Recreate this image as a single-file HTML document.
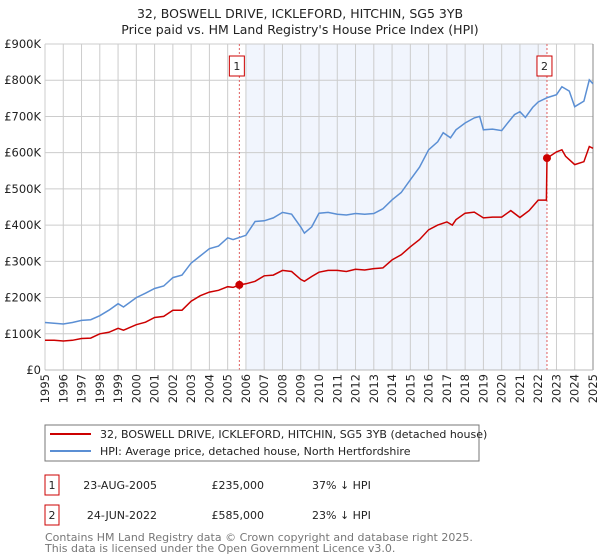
<!DOCTYPE html>
<html><head><meta charset="utf-8"><style>
body{margin:0;background:#fff;font-family:"Liberation Sans","DejaVu Sans",sans-serif;}
#wrap{position:relative;width:600px;height:560px;overflow:hidden;}
</style></head><body>
<div id="wrap">
<svg id="chart" width="600" height="560" xmlns="http://www.w3.org/2000/svg" font-family="DejaVu Sans, Liberation Sans, sans-serif">
<text x="300" y="18" text-anchor="middle" font-size="12.5" fill="#222">32, BOSWELL DRIVE, ICKLEFORD, HITCHIN, SG5 3YB</text>
<text x="300" y="34" text-anchor="middle" font-size="12.5" fill="#222">Price paid vs. HM Land Registry's House Price Index (HPI)</text>
<g id="plot"></g>
<rect x="45" y="425" width="434" height="36" fill="#fff" stroke="#777"/>
<line x1="50" y1="434" x2="91" y2="434" stroke="#cc0000" stroke-width="2"/>
<text x="100" y="438" font-size="11" fill="#222">32, BOSWELL DRIVE, ICKLEFORD, HITCHIN, SG5 3YB (detached house)</text>
<line x1="50" y1="451" x2="91" y2="451" stroke="#5b8fd4" stroke-width="2"/>
<text x="100" y="455" font-size="11" fill="#222">HPI: Average price, detached house, North Hertfordshire</text>
<g font-size="11" fill="#222">
<rect x="45" y="475" width="14" height="20" fill="none" stroke="#cc0000"/>
<text x="52" y="489" text-anchor="middle">1</text>
<text x="157" y="489" text-anchor="end">23-AUG-2005</text>
<text x="264" y="489" text-anchor="end">£235,000</text>
<text x="312" y="489">37% ↓ HPI</text>
<rect x="45" y="505" width="14" height="20" fill="none" stroke="#cc0000"/>
<text x="52" y="519" text-anchor="middle">2</text>
<text x="157" y="519" text-anchor="end">24-JUN-2022</text>
<text x="264" y="519" text-anchor="end">£585,000</text>
<text x="312" y="519">23% ↓ HPI</text>
</g>
<text x="45" y="541" font-size="11" fill="#777">Contains HM Land Registry data © Crown copyright and database right 2025.</text>
<text x="45" y="552" font-size="11" fill="#777">This data is licensed under the Open Government Licence v3.0.</text>
</svg>
</div>
<script>
const yTickValues=[0,100000,200000,300000,400000,500000,600000,700000,800000,900000];
const yTickLabels=["£0","£100K","£200K","£300K","£400K","£500K","£600K","£700K","£800K","£900K"];
const xTickYears=[1995,1996,1997,1998,1999,2000,2001,2002,2003,2004,2005,2006,2007,2008,2009,2010,2011,2012,2013,2014,2015,2016,2017,2018,2019,2020,2021,2022,2023,2024,2025];
const hpiDates=[1995,1995.5,1996,1996.5,1997,1997.5,1998,1998.5,1999,1999.3,2000,2000.5,2001,2001.5,2002,2002.5,2003,2003.5,2004,2004.5,2005,2005.3,2006,2006.5,2007,2007.5,2008,2008.5,2009,2009.2,2009.6,2010,2010.5,2011,2011.5,2012,2012.5,2013,2013.5,2014,2014.5,2015,2015.5,2016,2016.5,2016.8,2017.2,2017.5,2018,2018.5,2018.8,2019,2019.5,2020,2020.3,2020.7,2021,2021.3,2021.7,2022,2022.5,2023,2023.3,2023.7,2024,2024.5,2024.8,2025];
const hpiValues=[131000,129000,127000,131000,137000,139000,150000,165000,183000,174000,200000,212000,225000,232000,255000,262000,295000,315000,335000,342000,365000,360000,372000,410000,412000,420000,435000,430000,395000,378000,395000,433000,435000,430000,428000,432000,430000,432000,445000,470000,490000,525000,560000,608000,630000,655000,641000,663000,682000,696000,700000,663000,665000,661000,680000,705000,713000,697000,725000,740000,752000,760000,782000,770000,727000,742000,801000,790000];
const ppDates=[1995,1995.5,1996,1996.5,1997,1997.5,1998,1998.5,1999,1999.3,2000,2000.5,2001,2001.5,2002,2002.5,2003,2003.5,2004,2004.5,2005,2005.3,2005.64,2006,2006.5,2007,2007.5,2008,2008.5,2009,2009.2,2009.6,2010,2010.5,2011,2011.5,2012,2012.5,2013,2013.5,2014,2014.5,2015,2015.5,2016,2016.5,2017,2017.3,2017.5,2018,2018.5,2019,2019.5,2020,2020.5,2021,2021.5,2022,2022.45,2022.48,2023,2023.3,2023.5,2024,2024.5,2024.8,2025];
const ppValues=[82000,82000,80000,82000,87000,88000,100000,104000,115000,110000,125000,132000,145000,148000,165000,165000,190000,205000,215000,220000,230000,228000,235000,238000,245000,260000,262000,275000,272000,250000,245000,258000,270000,275000,275000,272000,278000,276000,280000,282000,304000,318000,340000,360000,387000,400000,409000,400000,415000,433000,436000,420000,422000,422000,440000,421000,440000,469000,469000,585000,602000,608000,590000,567000,575000,617000,612000];
const saleDates=[2005.64,2022.48];
const salePrices=[235000,585000];
const saleLabels=["1","2"];

const NS="http://www.w3.org/2000/svg";
const X0=45,X1=593,Y0=370,Y1=44;
const xs=y=>X0+(y-1995)/(2025-1995)*(X1-X0);
const ys=v=>Y0-v/900000*(Y0-Y1);
const plot=document.getElementById('plot');
function mk(tag,attrs){const e=document.createElementNS(NS,tag);for(const k in attrs)e.setAttribute(k,attrs[k]);plot.appendChild(e);return e;}
let e;
const shadeStart=Math.ceil(saleDates[0]);
e=mk('rect',{x:xs(shadeStart),y:Y1,width:xs(saleDates[1])-xs(shadeStart),height:Y0-Y1,fill:'#eef3fd',opacity:0.8});


yTickValues.forEach((v,i)=>{
  e=mk('line',{x1:X0,x2:X1,y1:ys(v),y2:ys(v),stroke:'#ccc','stroke-width':1});
  
  
  e=mk('text',{x:X0-4,y:ys(v)+4,'text-anchor':'end','font-size':11.5,fill:'#222'});
  e.textContent=yTickLabels[i];
  
  
});
xTickYears.forEach(yr=>{
  e=mk('line',{x1:xs(yr),x2:xs(yr),y1:Y1,y2:Y0,stroke:'#ccc','stroke-width':1});
  
  
  const t=mk('text',{x:0,y:0,'text-anchor':'end','font-size':11.5,fill:'#222',transform:`translate(${xs(yr)+4},374) rotate(-90)`});
  t.textContent=yr;
  
  
});
e=mk('line',{x1:X1,x2:X1,y1:Y1,y2:Y0,stroke:'#888','stroke-width':1});


saleDates.forEach((d,i)=>{
  e=mk('line',{x1:xs(d),x2:xs(d),y1:Y1,y2:Y0,stroke:'#e06060','stroke-width':1,'stroke-dasharray':'2,2'});
  
  
});
function pathOf(ds,vs){return ds.map((d,i)=>(i?'L':'M')+xs(d).toFixed(1)+','+ys(vs[i]).toFixed(1)).join('');}
e=mk('path',{d:pathOf(hpiDates,hpiValues),fill:'none',stroke:'#5b8fd4','stroke-width':1.5});


e=mk('path',{d:pathOf(ppDates,ppValues),fill:'none',stroke:'#cc0000','stroke-width':1.5});


saleDates.forEach((d,i)=>{
  e=mk('circle',{cx:xs(d),cy:ys(salePrices[i]),r:4,fill:'#cc0000'});
  
  
  const bx=xs(d)-2.5;
  e=mk('rect',{x:bx-7.5,y:56,width:15,height:20,fill:'#fff',stroke:'#cc0000'});
  
  
  const t=mk('text',{x:bx,y:70,'text-anchor':'middle','font-size':11,fill:'#222'});
  t.textContent=saleLabels[i];
  
  
});
e=mk('line',{x1:X0,x2:X1,y1:Y0,y2:Y0,stroke:'#bbb','stroke-width':1});


</script>
</body></html>
